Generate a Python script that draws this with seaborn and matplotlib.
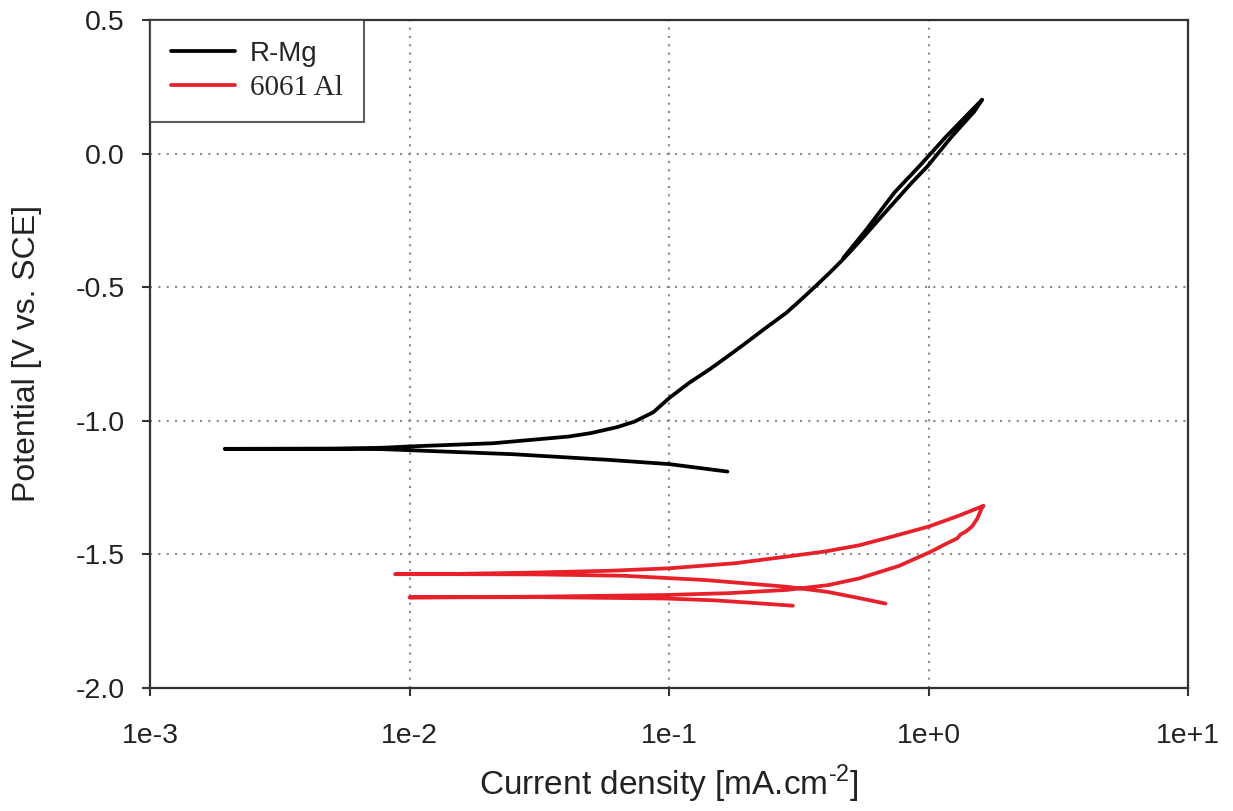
import numpy as np
import pandas as pd
import matplotlib
matplotlib.use("Agg")
import matplotlib.pyplot as plt
import seaborn as sns
from matplotlib.lines import Line2D

# ---------------- data ----------------
# R-Mg : cathodic branch -> anodic branch -> reverse scan
rmg_current = [0.168, 0.10, 0.058, 0.025, 0.010, 0.0078, 0.0050, 0.00194,
               0.0050, 0.0078, 0.010, 0.021, 0.041, 0.050, 0.063, 0.0736, 0.087, 0.101,
               0.120, 0.144, 0.166, 0.192, 0.234, 0.284, 0.324, 0.370, 0.417, 0.466,
               0.518, 0.575, 0.645, 0.724, 0.86, 0.99, 1.23, 1.50, 1.61,
               1.45, 1.17, 0.92, 0.74, 0.57, 0.47]
rmg_potential = [-1.190, -1.162, -1.146, -1.125, -1.110, -1.106, -1.105, -1.105,
                 -1.104, -1.101, -1.096, -1.084, -1.059, -1.046, -1.024, -1.003, -0.968, -0.912,
                 -0.857, -0.806, -0.763, -0.718, -0.655, -0.595, -0.545, -0.493, -0.445, -0.398,
                 -0.350, -0.301, -0.246, -0.191, -0.110, -0.048, 0.064, 0.157, 0.202,
                 0.157, 0.064, -0.048, -0.145, -0.290, -0.390]

# 6061 Al : cathodic branch -> anodic -> reverse -> second cathodic branch
al_current = [0.683, 0.55, 0.407, 0.284, 0.138, 0.067, 0.032, 0.015, 0.0088,
              0.015, 0.030, 0.060, 0.10, 0.18, 0.28, 0.40, 0.54, 0.72, 1.0, 1.31, 1.63,
              1.60, 1.54, 1.47, 1.39, 1.33, 1.29, 1.17, 1.02, 0.77, 0.54,
              0.41, 0.284, 0.17, 0.096, 0.032, 0.010,
              0.032, 0.096, 0.15, 0.20, 0.30]
al_potential = [-1.684, -1.665, -1.640, -1.621, -1.596, -1.580, -1.575, -1.574, -1.574,
                -1.573, -1.568, -1.561, -1.552, -1.533, -1.509, -1.489, -1.466, -1.434, -1.396, -1.355, -1.318,
                -1.329, -1.367, -1.396, -1.415, -1.425, -1.440, -1.460, -1.490, -1.543, -1.590,
                -1.615, -1.633, -1.645, -1.652, -1.658, -1.661,
                -1.660, -1.665, -1.672, -1.680, -1.692]

series_names = ["R-Mg", "6061 Al"]
x_ticks = [1e-3, 1e-2, 1e-1, 1e0, 1e1]
x_tick_labels = ["1e-3", "1e-2", "1e-1", "1e+0", "1e+1"]
y_ticks = [-2.0, -1.5, -1.0, -0.5, 0.0, 0.5]
y_tick_labels = ["-2.0", "-1.5", "-1.0", "-0.5", "0.0", "0.5"]

df = pd.concat([
    pd.DataFrame({"current": rmg_current, "potential": rmg_potential, "alloy": series_names[0]}),
    pd.DataFrame({"current": al_current, "potential": al_potential, "alloy": series_names[1]}),
], ignore_index=True)

# ---------------- style ----------------
sns.set_style("ticks")
plt.rcParams["font.family"] = ["Liberation Sans", "DejaVu Sans"]
plt.rcParams["mathtext.fontset"] = "custom"
plt.rcParams["mathtext.rm"] = "Liberation Sans"
plt.rcParams["axes.unicode_minus"] = False

fig = plt.figure(figsize=(12.33, 8.11), dpi=100)
ax = fig.add_axes([150 / 1233, 1 - 688 / 811, (1188 - 150) / 1233, (688 - 20) / 811])

palette = {"R-Mg": "black", "6061 Al": "#e8202a"}
sns.lineplot(data=df, x="current", y="potential", hue="alloy", palette=palette,
             sort=False, estimator=None, linewidth=2.7, ax=ax, legend=False)

ax.set_xscale("log")
ax.set_xlim(1e-3, 1e1)
ax.set_ylim(-2.0, 0.5)
ax.set_xticks(x_ticks)
ax.set_xticklabels(x_tick_labels)
ax.xaxis.set_minor_locator(matplotlib.ticker.NullLocator())
ax.set_yticks(y_ticks)
ax.set_yticklabels(y_tick_labels)

ax.tick_params(axis="both", direction="out", length=6, width=1.5, color="#333333",
               labelsize=20.5, labelcolor="#222222")
ax.tick_params(axis="x", pad=19)
ax.tick_params(axis="y", pad=12)

for s in ax.spines.values():
    s.set_visible(True)
    s.set_color("#333333")
    s.set_linewidth(1.6)

ax.grid(True, which="major", linestyle=(0, (1, 3)), color="#8a8a8a", linewidth=1.5)

ax.set_xlabel(r"Current density [mA.cm$^{\text{-2}}$]", fontsize=24, labelpad=10,
              color="#222222")
ax.set_ylabel("Potential [V vs. SCE]", fontsize=23, labelpad=24, color="#222222")

# legend
handles = [Line2D([], [], color=palette[n], linewidth=2.7) for n in series_names]
leg = ax.legend(handles, series_names, loc="upper left", bbox_to_anchor=(0.0, 1.0),
                frameon=True, fancybox=False, edgecolor="#333333", fontsize=20,
                handlelength=2.3, handletextpad=0.55, borderpad=0.75, labelspacing=0.3,
                borderaxespad=0.0)
leg.get_frame().set_linewidth(1.5)
leg.get_texts()[1].set_family(["Liberation Serif", "DejaVu Serif"])
leg.get_texts()[1].set_fontsize(21)

fig.savefig("out.png", dpi=100)
